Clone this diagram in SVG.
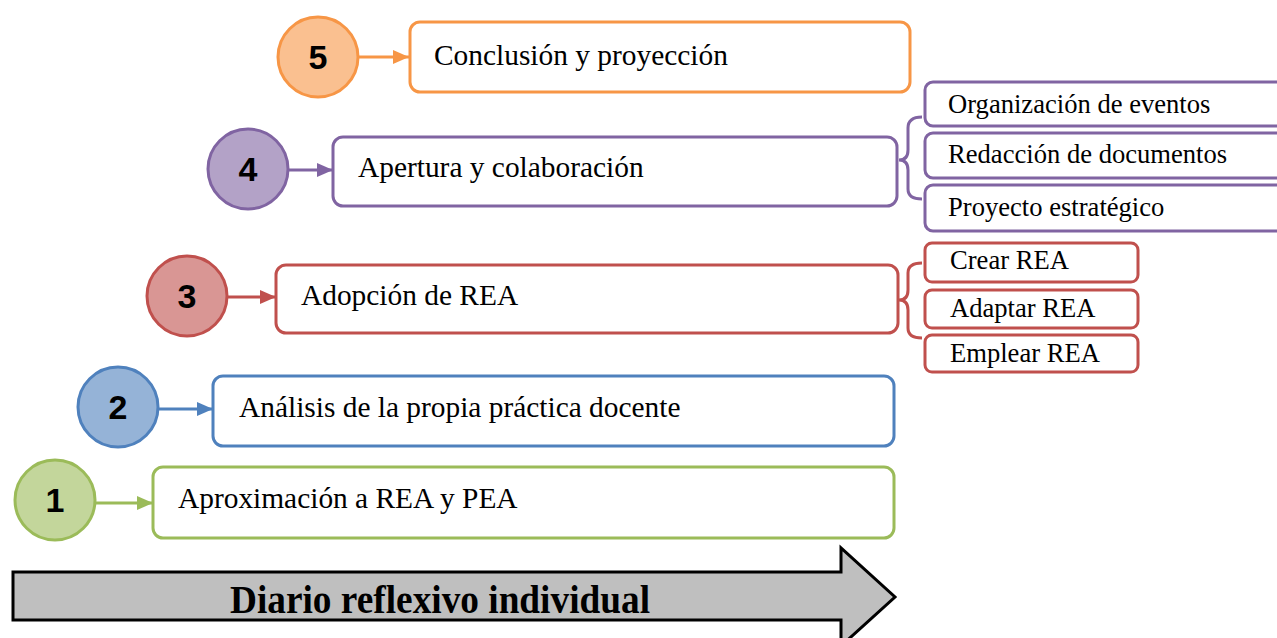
<svg xmlns="http://www.w3.org/2000/svg" width="1277" height="638" viewBox="0 0 1277 638">
<style>
.box{fill:#fff;stroke-width:3}
.circ{stroke-width:3}
.num{font-family:"Liberation Sans",Arial,sans-serif;font-weight:bold;font-size:34px;text-anchor:middle;fill:#000}
.lbl{font-family:"Liberation Serif","Times New Roman",serif;font-size:29.4px;fill:#000}
.sub{font-family:"Liberation Serif","Times New Roman",serif;font-size:26.6px;fill:#000}
.conn{fill:none;stroke-width:3}
.brace{fill:none;stroke-width:3}
.o{stroke:#F79646}.p{stroke:#8064A2}.r{stroke:#C0504D}.b{stroke:#4F81BD}.g{stroke:#9BBB59}
</style>
<defs>
<marker id="aO" markerWidth="16" markerHeight="14" refX="16" refY="7" orient="auto" markerUnits="userSpaceOnUse"><path d="M0,0 L16,7 L0,14 Z" fill="#F79646"/></marker>
<marker id="aP" markerWidth="16" markerHeight="14" refX="16" refY="7" orient="auto" markerUnits="userSpaceOnUse"><path d="M0,0 L16,7 L0,14 Z" fill="#8064A2"/></marker>
<marker id="aR" markerWidth="16" markerHeight="14" refX="16" refY="7" orient="auto" markerUnits="userSpaceOnUse"><path d="M0,0 L16,7 L0,14 Z" fill="#C0504D"/></marker>
<marker id="aB" markerWidth="16" markerHeight="14" refX="16" refY="7" orient="auto" markerUnits="userSpaceOnUse"><path d="M0,0 L16,7 L0,14 Z" fill="#4F81BD"/></marker>
<marker id="aG" markerWidth="16" markerHeight="14" refX="16" refY="7" orient="auto" markerUnits="userSpaceOnUse"><path d="M0,0 L16,7 L0,14 Z" fill="#9BBB59"/></marker>
</defs>
<rect width="1277" height="638" fill="#fff"/>

<g id="timeline">
<polygon points="13,572 841,572 841,548 895,597 841,646 841,620 13,620" fill="#BFBFBF" stroke="#000" stroke-width="3"/>
<text x="440" y="613" text-anchor="middle" textLength="420" lengthAdjust="spacingAndGlyphs" style="font-family:'Liberation Serif','Times New Roman',serif;font-weight:bold;font-size:40px;fill:#000">Diario reflexivo individual</text>
</g>

<g id="connectors">
<line class="conn o" x1="358" y1="57" x2="409" y2="57" marker-end="url(#aO)"/>
<line class="conn p" x1="288" y1="170" x2="333" y2="170" marker-end="url(#aP)"/>
<line class="conn r" x1="227" y1="297" x2="276" y2="297" marker-end="url(#aR)"/>
<line class="conn b" x1="158" y1="409" x2="213" y2="409" marker-end="url(#aB)"/>
<line class="conn g" x1="95" y1="503" x2="153" y2="503" marker-end="url(#aG)"/>
<path class="brace p" d="M922,117 Q908,117 908,128 L908,150 Q908,160 899,160 Q908,160 908,170 L908,189 Q908,199 922,199"/>
<path class="brace r" d="M922,263 Q908,263 908,273 L908,290 Q908,300 899,300 Q908,300 908,310 L908,328 Q908,338 922,338"/>
</g>

<g id="step5">
<circle class="circ o" cx="318" cy="57" r="40" fill="#FAC090"/>
<text class="num" x="318" y="69">5</text>
<rect class="box o" x="410" y="22" width="500" height="70" rx="10"/>
<text class="lbl" x="434" y="65">Conclusión y proyección</text>
</g>

<g id="step4">
<circle class="circ p" cx="248" cy="169" r="40" fill="#B3A2C7"/>
<text class="num" x="248" y="181">4</text>
<rect class="box p" x="333" y="137" width="564" height="69" rx="10"/>
<text class="lbl" x="358" y="177">Apertura y colaboración</text>
</g>

<g id="step4a">
<rect class="box p" x="925" y="82" width="380" height="44" rx="8"/>
<text class="sub" x="948" y="113">Organización de eventos</text>
</g>
<g id="step4b">
<rect class="box p" x="925" y="133" width="380" height="45" rx="8"/>
<text class="sub" x="948" y="163">Redacción de documentos</text>
</g>
<g id="step4c">
<rect class="box p" x="925" y="185" width="380" height="46" rx="8"/>
<text class="sub" x="948" y="216">Proyecto estratégico</text>
</g>

<g id="step3">
<circle class="circ r" cx="187" cy="296" r="40" fill="#D99694"/>
<text class="num" x="187" y="308">3</text>
<rect class="box r" x="276" y="265" width="622" height="68" rx="10"/>
<text class="lbl" x="301" y="305">Adopción de REA</text>
</g>

<g id="step3a">
<rect class="box r" x="925" y="243" width="213" height="39" rx="7"/>
<text class="sub" x="950" y="269">Crear REA</text>
</g>
<g id="step3b">
<rect class="box r" x="925" y="290" width="213" height="38" rx="7"/>
<text class="sub" x="950" y="317">Adaptar REA</text>
</g>
<g id="step3c">
<rect class="box r" x="925" y="335" width="213" height="37" rx="7"/>
<text class="sub" x="950" y="362">Emplear REA</text>
</g>

<g id="step2">
<circle class="circ b" cx="118" cy="407" r="40" fill="#95B3D7"/>
<text class="num" x="118" y="419">2</text>
<rect class="box b" x="213" y="376" width="681" height="70" rx="10"/>
<text class="lbl" x="239" y="417">Análisis de la propia práctica docente</text>
</g>

<g id="step1">
<circle class="circ g" cx="55" cy="500" r="40" fill="#C3D69B"/>
<text class="num" x="55" y="512">1</text>
<rect class="box g" x="153" y="467" width="741" height="71" rx="10"/>
<text class="lbl" x="178" y="508">Aproximación a REA y PEA</text>
</g>
</svg>
